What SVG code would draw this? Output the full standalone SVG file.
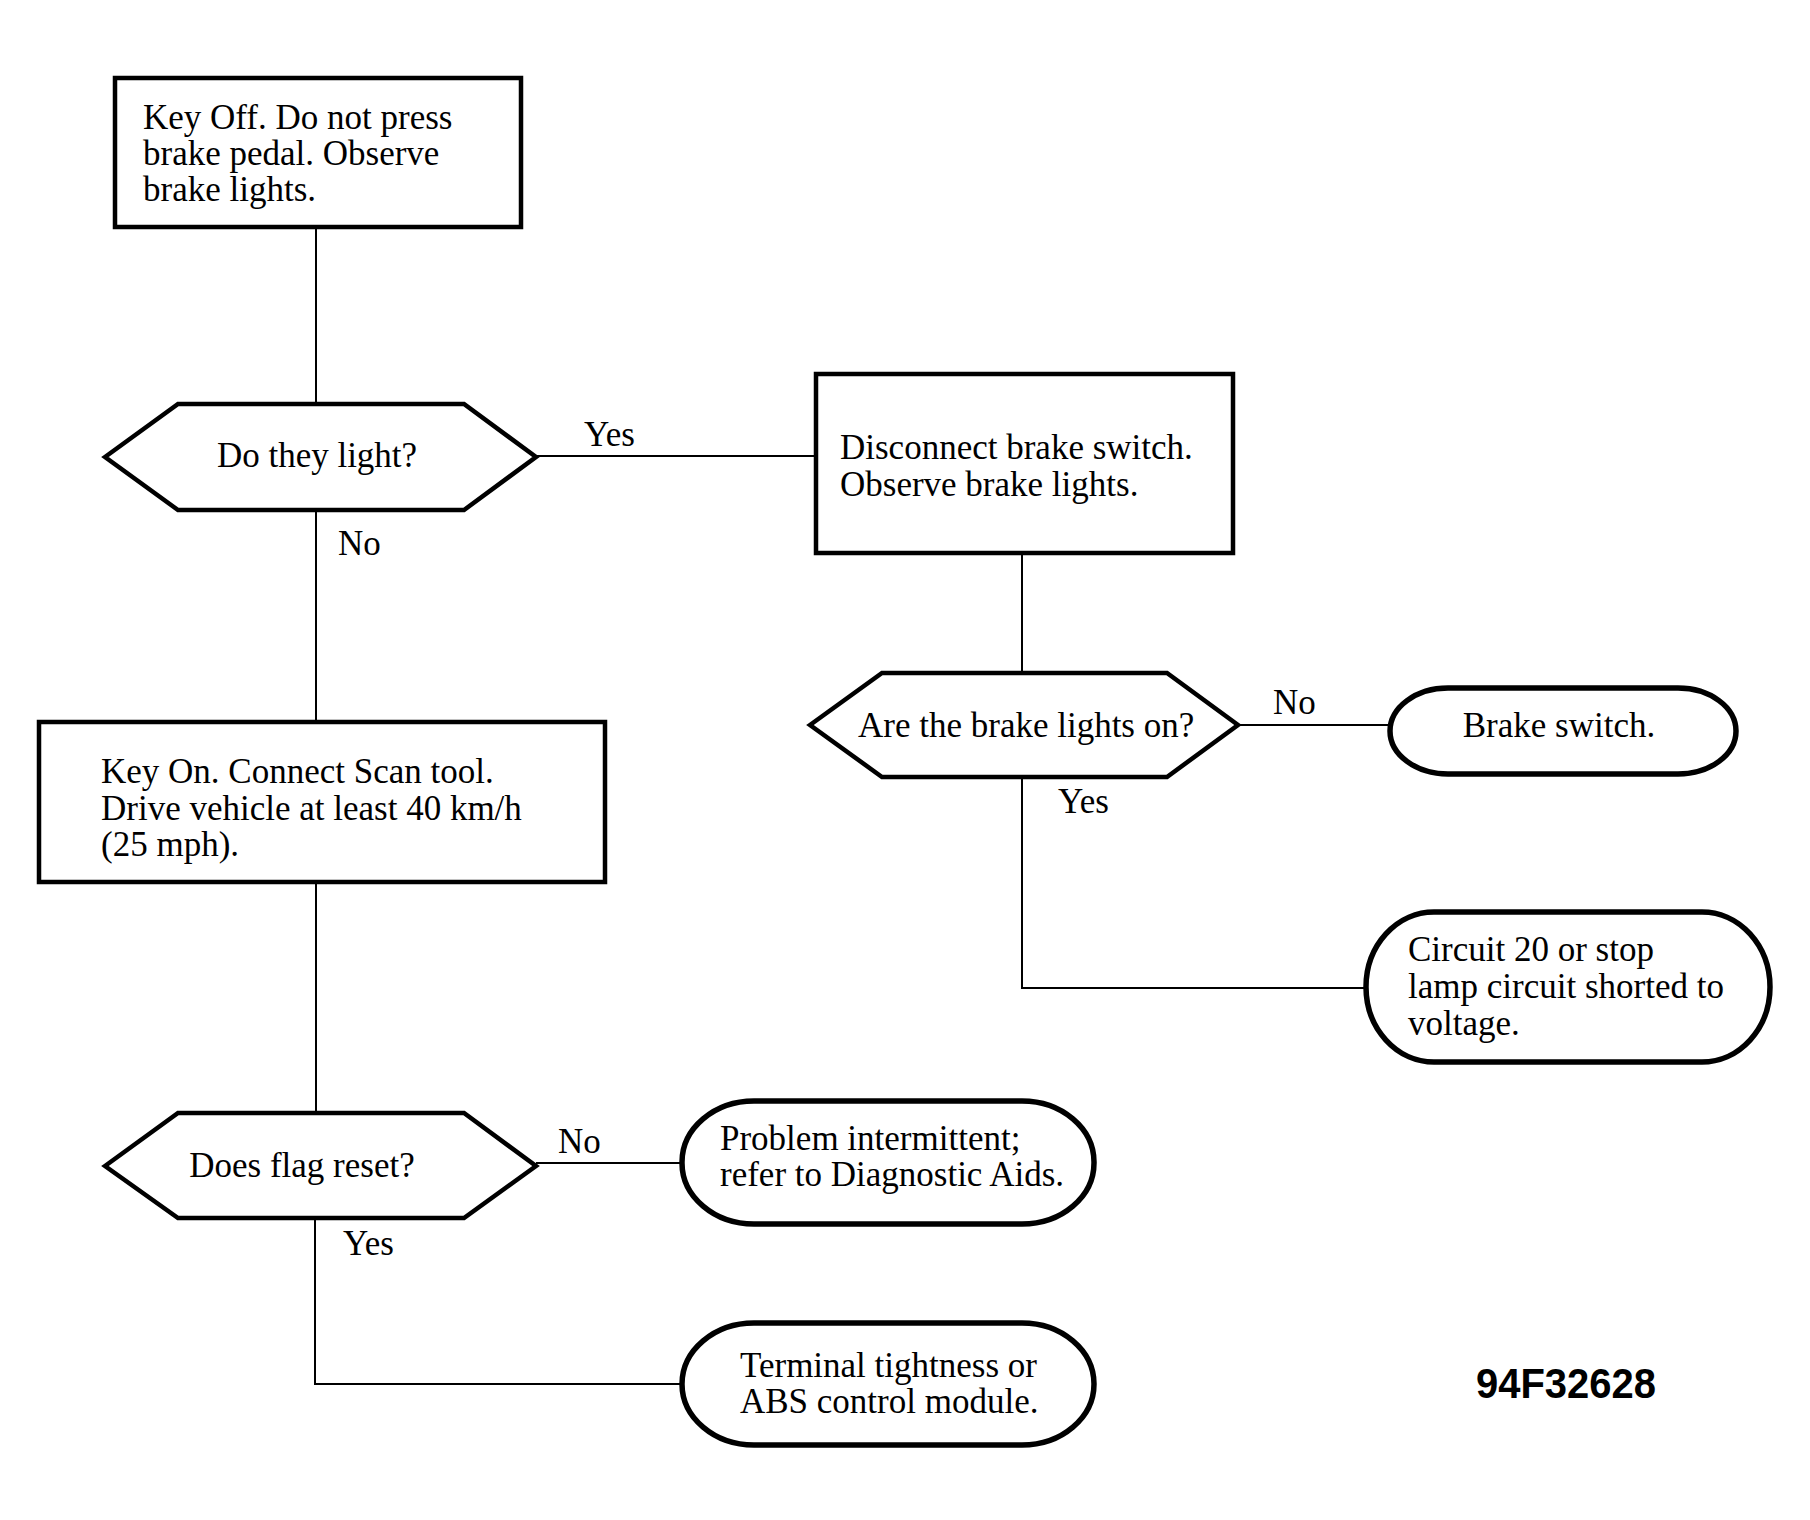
<svg xmlns="http://www.w3.org/2000/svg" width="1810" height="1520" viewBox="0 0 1810 1520">
<style>
.box{fill:#fff;stroke:#000;stroke-width:4.5}
.term{fill:#fff;stroke:#000;stroke-width:5.5}
.ln{fill:none;stroke:#000;stroke-width:2}
text{font-family:"Liberation Serif","Times New Roman",serif;font-size:35px;fill:#000}
.c{text-anchor:middle}
.id{font-family:"Liberation Sans",Arial,sans-serif;font-weight:bold;font-size:42px}
</style>
<rect width="1810" height="1520" fill="#fff"/>
<g id="connectors">
<line class="ln" x1="316" y1="227" x2="316" y2="404"/>
<line class="ln" x1="536" y1="456" x2="816" y2="456"/>
<line class="ln" x1="316" y1="510" x2="316" y2="722"/>
<line class="ln" x1="1022" y1="553" x2="1022" y2="673"/>
<line class="ln" x1="1238" y1="725" x2="1390" y2="725"/>
<polyline class="ln" points="1022,777 1022,988 1366,988"/>
<line class="ln" x1="316" y1="882" x2="316" y2="1113"/>
<line class="ln" x1="536" y1="1163" x2="682" y2="1163"/>
<polyline class="ln" points="315,1218 315,1384 682,1384"/>
<text x="584" y="446">Yes</text>
<text x="338" y="555">No</text>
<text x="1273" y="714">No</text>
<text x="1058" y="813">Yes</text>
<text x="558" y="1153">No</text>
<text x="343" y="1255">Yes</text>
</g>
<g id="n1">
<rect class="box" x="115" y="78" width="406" height="149"/>
<text x="143" y="129">Key Off. Do not press</text>
<text x="143" y="165">brake pedal. Observe</text>
<text x="143" y="201">brake lights.</text>
</g>
<g id="n2">
<polygon class="box" points="105,457 178,404 464,404 536,457 464,510 178,510"/>
<text class="c" x="317" y="467">Do they light?</text>
</g>
<g id="n3">
<rect class="box" x="816" y="374" width="417" height="179"/>
<text x="840" y="459">Disconnect brake switch.</text>
<text x="840" y="496">Observe brake lights.</text>
</g>
<g id="n4">
<polygon class="box" points="810,725 882,673 1167,673 1238,725 1167,777 882,777"/>
<text x="858" y="737">Are the brake lights on?</text>
</g>
<g id="n5">
<rect class="term" x="1390" y="688" width="346" height="86" rx="58" ry="43"/>
<text class="c" x="1559" y="737">Brake switch.</text>
</g>
<g id="n6">
<rect class="term" x="1366" y="912" width="404" height="150" rx="68" ry="75"/>
<text x="1408" y="961">Circuit 20 or stop</text>
<text x="1408" y="998">lamp circuit shorted to</text>
<text x="1408" y="1035">voltage.</text>
</g>
<g id="n7">
<rect class="box" x="39" y="722" width="566" height="160"/>
<text x="101" y="783">Key On. Connect Scan tool.</text>
<text x="101" y="820">Drive vehicle at least 40 km/h</text>
<text x="101" y="856">(25 mph).</text>
</g>
<g id="n8">
<polygon class="box" points="105,1166 178,1113 464,1113 536,1166 464,1218 178,1218"/>
<text class="c" x="302" y="1177">Does flag reset?</text>
</g>
<g id="n9">
<rect class="term" x="682" y="1101" width="412" height="123" rx="72" ry="61"/>
<text x="720" y="1150">Problem intermittent;</text>
<text x="720" y="1186">refer to Diagnostic Aids.</text>
</g>
<g id="n10">
<rect class="term" x="682" y="1323" width="412" height="122" rx="72" ry="61"/>
<text x="740" y="1377">Terminal tightness or</text>
<text x="740" y="1413">ABS control module.</text>
</g>
<text class="id" x="1476" y="1398" textLength="180" lengthAdjust="spacingAndGlyphs">94F32628</text>
</svg>
